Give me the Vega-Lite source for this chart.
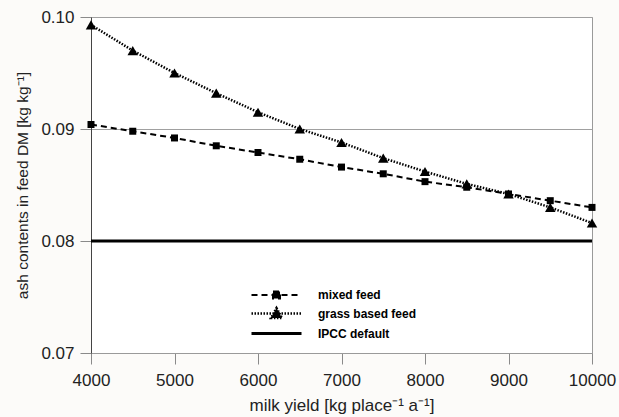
{
  "$schema": "https://vega.github.io/schema/vega-lite/v6.json",
  "width": 501,
  "height": 336,
  "autosize": {"type": "none"},
  "padding": {"left": 91, "top": 17, "right": 27, "bottom": 64},
  "background": "#fcfbf9",
  "config": {
    "font": "Liberation Sans",
    "view": {"fill": "white", "stroke": "#9a9a9a", "strokeWidth": 1},
    "axis": {
      "labelFont": "Liberation Sans",
      "titleFont": "Liberation Sans",
      "labelFontSize": 17,
      "labelColor": "#222",
      "titleColor": "#222",
      "titleFontWeight": "normal",
      "gridColor": "#a0a0a0",
      "gridOpacity": 1,
      "ticks": true,
      "tickColor": "#8a8a8a",
      "tickWidth": 1,
      "tickOpacity": 1,
      "labelFlush": false,
      "labelOverlap": false
    }
  },
  "data": {
    "values": [
      {"x": 4000, "y": 0.0904, "series": "mixed feed"},
      {"x": 4500, "y": 0.0898, "series": "mixed feed"},
      {"x": 5000, "y": 0.0892, "series": "mixed feed"},
      {"x": 5500, "y": 0.0885, "series": "mixed feed"},
      {"x": 6000, "y": 0.0879, "series": "mixed feed"},
      {"x": 6500, "y": 0.0873, "series": "mixed feed"},
      {"x": 7000, "y": 0.0866, "series": "mixed feed"},
      {"x": 7500, "y": 0.0860, "series": "mixed feed"},
      {"x": 8000, "y": 0.0853, "series": "mixed feed"},
      {"x": 8500, "y": 0.0848, "series": "mixed feed"},
      {"x": 9000, "y": 0.0842, "series": "mixed feed"},
      {"x": 9500, "y": 0.0836, "series": "mixed feed"},
      {"x": 10000, "y": 0.0830, "series": "mixed feed"},
      {"x": 4000, "y": 0.0993, "series": "grass based feed"},
      {"x": 4500, "y": 0.0970, "series": "grass based feed"},
      {"x": 5000, "y": 0.0950, "series": "grass based feed"},
      {"x": 5500, "y": 0.0932, "series": "grass based feed"},
      {"x": 6000, "y": 0.0915, "series": "grass based feed"},
      {"x": 6500, "y": 0.0900, "series": "grass based feed"},
      {"x": 7000, "y": 0.0888, "series": "grass based feed"},
      {"x": 7500, "y": 0.0874, "series": "grass based feed"},
      {"x": 8000, "y": 0.0862, "series": "grass based feed"},
      {"x": 8500, "y": 0.0851, "series": "grass based feed"},
      {"x": 9000, "y": 0.0842, "series": "grass based feed"},
      {"x": 9500, "y": 0.0830, "series": "grass based feed"},
      {"x": 10000, "y": 0.0816, "series": "grass based feed"},
      {"x": 4000, "y": 0.08, "series": "IPCC default"},
      {"x": 10000, "y": 0.08, "series": "IPCC default"}
    ]
  },
  "encoding": {
    "x": {
      "field": "x", "type": "quantitative",
      "scale": {"domain": [4000, 10000], "nice": false},
      "axis": {"title": "milk yield [kg place⁻¹ a⁻¹]", "titleFontSize": 17, "values": [4000,5000,6000,7000,8000,9000,10000], "format": "d", "grid": false, "tickSize": 11, "labelPadding": 8, "titlePadding": 9, "domainColor": "#9a9a9a"}
    },
    "y": {
      "field": "y", "type": "quantitative",
      "scale": {"domain": [0.07, 0.10], "nice": false, "zero": false},
      "axis": {"title": "ash contents in feed DM [kg kg⁻¹]", "titleFontSize": 15.5, "values": [0.07,0.08,0.09,0.10], "format": ".2f", "tickSize": 11, "labelPadding": 6, "titlePadding": 10, "domainColor": "#444"}
    }
  },
  "layer": [
    {
      "mark": {"type": "line", "color": "black"},
      "encoding": {
        "detail": {"field": "series"},
        "strokeDash": {
          "field": "series", "type": "nominal",
          "scale": {"domain": ["mixed feed", "grass based feed", "IPCC default"], "range": [[6,4],[1.5,1.5],[1,0]]},
          "legend": {
            "title": null,
            "orient": "none",
            "legendX": 179,
            "legendY": 272,
            "labelFont": "Liberation Sans",
            "labelFontSize": 12,
            "labelFontWeight": "bold",
            "labelColor": "black",
            "labelOffset": 35,
            "rowPadding": -2,
            "symbolSize": 100,
            "symbolType": {"expr": "datum.value === 'mixed feed' ? 'M-5,-1.1M-5,1.1M-5,0L5,0M-0.7,-0.7L0.7,-0.7L0.7,0.7L-0.7,0.7Z' : datum.value === 'grass based feed' ? 'M-5,-1.1M-5,1.1M-5,0L5,0M0,-1.1L1.1,0.9L-1.1,0.9Z' : 'M-5,-1.1M-5,1.1M-5,0L5,0'"},
            "symbolFillColor": "black",
            "symbolStrokeColor": "black",
            "symbolOpacity": 1,
            "symbolStrokeWidth": {"expr": "datum.value === 'IPCC default' ? 3.5 : 2"}
          }
        },
        "strokeWidth": {
          "field": "series", "type": "nominal",
          "scale": {"domain": ["mixed feed", "grass based feed", "IPCC default"], "range": [2, 3, 3.5]},
          "legend": null
        }
      }
    },
    {
      "transform": [{"filter": "datum.series !== 'IPCC default'"}],
      "mark": {"type": "point", "filled": true, "color": "black", "opacity": 1},
      "encoding": {
        "shape": {
          "field": "series", "type": "nominal",
          "scale": {"domain": ["mixed feed", "grass based feed"], "range": ["square", "triangle-up"]},
          "legend": null
        },
        "size": {
          "field": "series", "type": "nominal",
          "scale": {"domain": ["mixed feed", "grass based feed"], "range": [49, 110]},
          "legend": null
        }
      }
    }
  ]
}
